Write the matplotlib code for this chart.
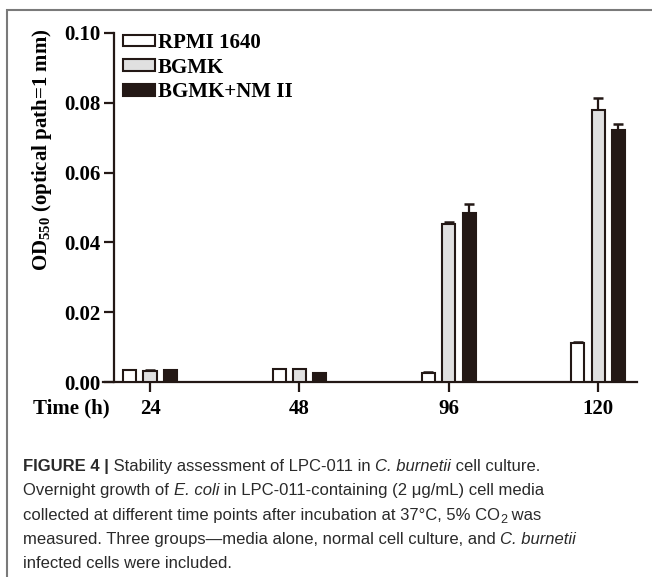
import numpy as np
import matplotlib
matplotlib.use("Agg")
import matplotlib.pyplot as plt
import matplotlib.patches as mpatches

# ── Data ──────────────────────────────────────────────────────────────────────
times   = ["24", "48", "96", "120"]
groups  = ["RPMI 1640", "BGMK", "BGMK+NM II"]
rpmi    = [0.0033, 0.0036, 0.0026, 0.0112]
bgmk    = [0.0031, 0.0036, 0.0452, 0.0778]
bgmk_nm = [0.0033, 0.0026, 0.0484, 0.0722]
rpmi_err    = [0.0002, 0.0002, 0.0002, 0.0002]
bgmk_err    = [0.0003, 0.0002, 0.0006, 0.0037]
bgmk_nm_err = [0.0001, 0.0001, 0.0026, 0.0017]

DARK  = "#231815"
FACES = ["white", "#e0e0e0", DARK]

plt.rcParams.update({
    "font.family": "Liberation Serif",
    "mathtext.fontset": "custom",
    "mathtext.rm": "Liberation Serif:bold",
    "mathtext.it": "Liberation Serif:italic",
    "mathtext.bf": "Liberation Serif:bold",
})

W, H = 652, 577
fig = plt.figure(figsize=(W / 100, H / 100), dpi=100)
fig.patch.set_facecolor("white")

# axes box in pixels (x from left, y from top)
x0, x1, ytop, ybot = 103, 637, 33, 382
ax = fig.add_axes([x0 / W, 1 - ybot / H, (x1 - x0) / W, (ybot - ytop) / H])

x = np.arange(len(times))
off, bw = 0.136, 0.088
series = [(rpmi, rpmi_err), (bgmk, bgmk_err), (bgmk_nm, bgmk_nm_err)]
for i, ((vals, errs), fc, lbl) in enumerate(zip(series, FACES, groups)):
    xs = x + (i - 1) * off
    ax.bar(xs, vals, width=bw, color=fc, edgecolor=DARK, linewidth=1.5,
           label=lbl, zorder=3)
    ax.errorbar(xs, vals, yerr=[np.zeros(len(errs)), errs], fmt="none",
                ecolor=DARK, elinewidth=1.6, capsize=3.5, capthick=1.8, zorder=2)

ax.set_xlim(-0.315, 3.26)
ax.set_ylim(0, 0.10)
ax.spines["top"].set_visible(False)
ax.spines["right"].set_visible(False)
ax.spines["left"].set_position(("data", -0.241))
for s in ("left", "bottom"):
    ax.spines[s].set_linewidth(1.6)
    ax.spines[s].set_color(DARK)

ax.set_yticks([0, 0.02, 0.04, 0.06, 0.08, 0.10])
ax.set_yticklabels(["0.00", "0.02", "0.04", "0.06", "0.08", "0.10"])
ax.set_xticks(x)
ax.set_xticklabels(times)
ax.tick_params(axis="both", direction="out", length=7, width=1.6, color=DARK,
               labelsize=15, labelcolor="black", pad=2.5)
ax.tick_params(axis="x", pad=5)
for t in ax.get_yticklabels() + ax.get_xticklabels():
    t.set_fontweight("bold")

ax.set_ylabel("OD$_{550}$ (optical path=1 mm)", fontsize=15, fontweight="bold")
ax.yaxis.set_label_coords(-0.092, 0.665)

fig.text(110 / W, 1 - 408 / H, "Time (h)", ha="right", va="center",
         fontsize=15, fontweight="bold")

handles = [mpatches.Patch(facecolor=fc, edgecolor=DARK, linewidth=1.5, label=g)
           for fc, g in zip(FACES, groups)]
ax.legend(handles=handles, loc="upper left", bbox_to_anchor=(0.037, 1.0),
          frameon=False, borderpad=0, borderaxespad=0, handlelength=1.54,
          handleheight=0.48, handletextpad=0.15, labelspacing=0.22,
          prop={"size": 15, "weight": "bold"})

# ── Frame ─────────────────────────────────────────────────────────────────────
fig.patches.append(mpatches.Rectangle((7 / W, -0.1), 1.2, 1 - 10 / H + 0.1,
                                      transform=fig.transFigure, fill=False,
                                      edgecolor="#7a7a7a", linewidth=1.5,
                                      clip_on=False))

# ── Caption ───────────────────────────────────────────────────────────────────
CAP = {"family": "Liberation Sans", "size": 12, "color": "#2a2a2a"}
lines = [
    [("FIGURE 4 |", "bold"), (" Stability assessment of LPC-011 in ", "normal"),
     ("C. burnetii", "italic"), (" cell culture.", "normal")],
    [("Overnight growth of ", "normal"), ("E. coli", "italic"),
     (" in LPC-011-containing (2 \u03bcg/mL) cell media", "normal")],
    [("collected at different time points after incubation at 37\u00b0C, 5% CO", "normal"),
     ("2", "sub"), (" was", "normal")],
    [("measured. Three groups\u2014media alone, normal cell culture, and ", "normal"),
     ("C. burnetii", "italic")],
    [("infected cells were included.", "normal")],
]
renderer = fig.canvas.get_renderer()
base0, step = 471, 24.3
for li, segs in enumerate(lines):
    xp = 23.0
    yb = base0 + li * step
    for txt, style in segs:
        kw = dict(CAP)
        yy = yb
        if style == "bold":
            kw["weight"] = "bold"
        elif style == "italic":
            kw["style"] = "italic"
        elif style == "sub":
            kw["size"] = CAP["size"] * 0.75
            yy = yb + 3.5
        t = fig.text(xp / W, 1 - yy / H, txt, ha="left", va="baseline", **kw)
        xp += t.get_window_extent(renderer).width

fig.savefig("out.png", dpi=100)
